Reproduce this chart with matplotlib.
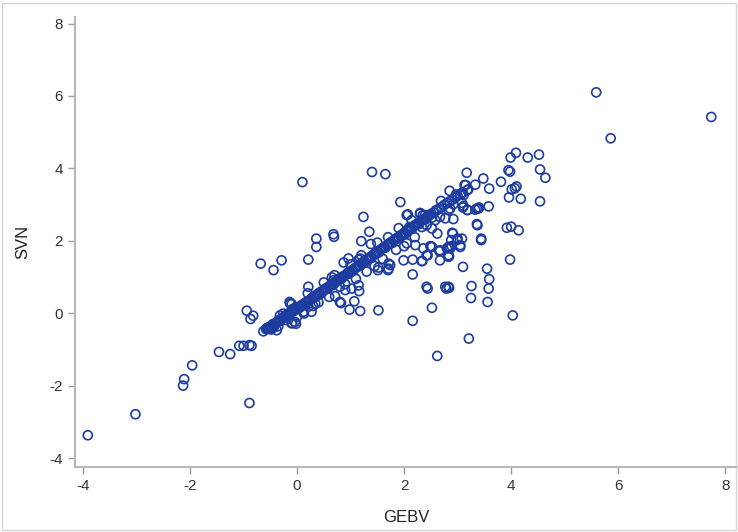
import matplotlib
matplotlib.use("Agg")
import matplotlib.pyplot as plt
from matplotlib.patches import Rectangle

# points lying on the main diagonal band
band_gebv = [
    -0.58, -0.55, -0.52, -0.50, -0.47, -0.45, -0.42, -0.40, -0.37, -0.35,
    -0.32, -0.30, -0.27, -0.25, -0.22, -0.20, -0.17, -0.15, -0.12, -0.10,
    -0.07, -0.05, -0.02, 0.00, 0.03, 0.05, 0.08, 0.10, 0.13, 0.15,
    0.18, 0.20, 0.23, 0.25, 0.28, 0.30, 0.32, 0.35, 0.38, 0.40,
    0.42, 0.45, 0.47, 0.50, 0.52, 0.55, 0.57, 0.60, 0.62, 0.65,
    0.68, 0.70, 0.72, 0.75, 0.78, 0.80, 0.83, 0.85, 0.88, 0.90,
    0.93, 0.95, 0.98, 1.00, 1.03, 1.05, 1.08, 1.10, 1.13, 1.15,
    1.18, 1.20, 1.23, 1.25, 1.28, 1.30, 1.33, 1.35, 1.38, 1.40,
    1.43, 1.45, 1.48, 1.50, 1.53, 1.55, 1.58, 1.60, 1.63, 1.65,
    1.68, 1.70, 1.73, 1.75, 1.78, 1.80, 1.83, 1.85, 1.88, 1.90,
    1.93, 1.95, 1.98, 2.00, 2.03, 2.05, 2.08, 2.10, 2.13, 2.15,
    2.18, 2.20, 2.23, 2.25, 2.28, 2.30, 2.33, 2.35, 2.38, 2.40,
    2.43, 2.45, 2.48, 2.50, 2.55, 2.60, 2.65, 2.70, 2.75, 2.80,
    2.85, 2.90, 2.95, 3.00, 3.05, 3.10, 3.20,
    0.40, 0.60, 0.90, 1.10, 1.30, 1.00, 0.70, 1.45, 1.60, 1.85,
    2.00, 1.70, 1.20, 0.50, 0.20, -0.10, 0.00, 0.30, 1.50, 2.20,
    2.30, 1.90,
]
band_svn = [
    -0.44, -0.40, -0.43, -0.36, -0.38, -0.30, -0.33, -0.27, -0.25, -0.20,
    -0.22, -0.16, -0.14, -0.10, -0.12, -0.05, -0.03, 0.00, 0.02, 0.06,
    0.05, 0.10, 0.12, 0.11, 0.17, 0.15, 0.21, 0.24, 0.22, 0.29,
    0.30, 0.33, 0.35, 0.38, 0.40, 0.45, 0.43, 0.49, 0.50, 0.55,
    0.52, 0.60, 0.58, 0.63, 0.66, 0.70, 0.67, 0.74, 0.76, 0.80,
    0.78, 0.85, 0.87, 0.90, 0.92, 0.97, 0.95, 1.01, 1.03, 1.05,
    1.08, 1.12, 1.10, 1.15, 1.19, 1.17, 1.24, 1.26, 1.28, 1.33,
    1.31, 1.37, 1.40, 1.43, 1.41, 1.48, 1.50, 1.53, 1.56, 1.55,
    1.62, 1.64, 1.66, 1.70, 1.68, 1.75, 1.77, 1.80, 1.83, 1.81,
    1.88, 1.90, 1.93, 1.96, 1.94, 2.01, 2.03, 2.06, 2.09, 2.07,
    2.14, 2.16, 2.19, 2.22, 2.20, 2.27, 2.29, 2.33, 2.35, 2.33,
    2.40, 2.43, 2.45, 2.48, 2.46, 2.53, 2.56, 2.58, 2.61, 2.59,
    2.66, 2.69, 2.71, 2.74, 2.78, 2.83, 2.88, 2.93, 2.99, 3.04,
    3.09, 3.13, 3.19, 3.24, 3.28, 3.33, 3.42,
    0.30, 0.45, 0.80, 0.95, 1.15, 1.35, 1.05, 1.30, 1.50, 1.75,
    1.85, 2.10, 1.60, 0.85, 0.55, 0.25, -0.10, 0.20, 1.95, 2.10,
    2.75, 2.35,
]

# points scattered off the band
off_gebv = [
    -3.91, -3.02, -2.11, -2.13, -1.96, -1.46, -1.25, -1.08, -1.00, -0.89,
    -0.85, -0.89, -0.94, -0.87, -0.82,
    -0.63, -0.57, -0.49, -0.44, -0.38, -0.35,
    -0.32, -0.26, -0.21, -0.16, -0.09, -0.02, -0.13, -0.07, 0.06, 0.13,
    0.27, 0.21, 0.34, -0.14, 0.12, -0.04, -0.10,
    0.82, 0.98, 1.18, 1.07, 0.21, 1.52, 2.16, 2.16, 1.15, 1.16,
    1.02, 0.71, 0.80, 1.51, 1.70, 0.65,
    -0.68, -0.29, -0.44, 0.21, 0.36, 0.36, 0.68, 0.69, 0.80, 0.90,
    0.68, 0.96, 0.87, 1.18,
    0.10, 1.40, 1.65, 1.93, 1.24, 2.05, 1.35, 1.20, 1.38, 2.05,
    2.21, 2.36, 2.49, 2.67, 2.83, 2.91, 1.99, 2.16, 2.33, 2.42,
    1.74, 1.71, 1.52, 1.15, 2.42, 2.77, 2.83, 2.67, 2.83, 2.85,
    5.59, 7.74, 5.86, 4.09, 3.99, 4.31, 4.52, 3.95, 3.98, 4.54,
    4.64, 3.48, 3.81, 3.59, 4.01, 4.10, 4.07, 3.96, 4.18, 4.54,
    3.58, 3.92, 4.00, 4.14,
    3.98, 3.10, 3.55, 3.59, 2.44, 2.79, 2.84, 3.26, 3.58, 3.25,
    3.56, 2.52, 4.03, 3.21, 2.62,
    2.50, 2.66, 2.84, 3.05, 3.44, 2.34, 2.44, 1.71, 2.86,
    3.17, 3.33, 3.15, 2.85, 2.97, 3.08, 3.11, 2.69, 2.92, 3.08,
    3.11, 3.19, 3.33, 3.39, 2.60, 2.83, 2.86, 2.39, 2.52, 2.58,
    2.67, 2.77, 2.92, 2.33, 2.42, 2.52, 2.62, 2.90, 3.08, 3.37,
    3.44, 2.52, 2.80, 2.89, 2.99, 3.05, 2.83, 3.36, 3.00, 2.88,
    2.14, 2.07, 2.30, 2.35, 2.10, 2.05, 3.18, 3.13, 3.36, 3.40,
    3.10, 3.18,
]
off_svn = [
    -3.37, -2.79, -1.82, -2.00, -1.44, -1.07, -1.13, -0.90, -0.90, -0.88,
    -0.90, -2.48, 0.07, -0.16, -0.07,
    -0.50, -0.42, -0.45, -0.40, -0.47, -0.36,
    -0.06, -0.01, -0.19, -0.06, -0.27, -0.29, 0.27, 0.13, 0.19, -0.01,
    0.04, 0.18, 0.27, 0.31, 0.04, -0.24, -0.28,
    0.28, 0.10, 0.06, 0.33, 0.73, 0.08, -0.21, 1.07, 0.77, 0.61,
    0.68, 0.47, 0.31, 1.19, 1.19, 0.99,
    1.37, 1.46, 1.19, 1.48, 2.06, 1.83, 2.18, 2.11, 0.73, 0.64,
    0.91, 1.51, 1.40, 1.51,
    3.62, 3.90, 3.84, 3.07, 2.66, 2.71, 2.25, 1.99, 1.91, 1.93,
    1.88, 1.79, 1.85, 1.74, 1.83, 2.20, 1.46, 1.48, 1.44, 1.60,
    1.33, 1.23, 1.26, 1.48, 0.73, 0.73, 0.73, 1.46, 1.56, 1.83,
    6.10, 5.42, 4.83, 4.43, 4.30, 4.30, 4.38, 3.95, 3.91, 3.97,
    3.74, 3.72, 3.63, 3.44, 3.42, 3.50, 3.45, 3.20, 3.16, 3.09,
    2.95, 2.36, 2.39, 2.29,
    1.48, 1.28, 1.23, 0.94, 0.68, 0.68, 0.70, 0.75, 0.68, 0.42,
    0.31, 0.15, -0.06, -0.70, -1.18,
    1.85, 1.71, 1.57, 1.88, 2.02, 1.44, 1.60, 1.37, 1.79,
    3.88, 3.55, 3.54, 3.38, 3.28, 3.32, 3.26, 3.10, 3.01, 3.05,
    2.96, 2.85, 2.86, 2.89, 2.85, 2.85, 2.89, 2.71, 2.64, 2.57,
    2.66, 2.62, 2.60, 2.38, 2.43, 2.34, 2.20, 2.22, 2.06, 2.43,
    2.06, 1.83, 1.79, 1.85, 2.02, 1.83, 1.60, 2.46, 2.06, 2.02,
    2.57, 2.73, 2.77, 2.71, 2.38, 2.29, 3.40, 3.54, 2.89, 2.92,
    2.92, 2.85,
]

x_ticks = [-4, -2, 0, 2, 4, 6, 8]
y_ticks = [-4, -2, 0, 2, 4, 6, 8]

gebv = band_gebv + off_gebv
svn = band_svn + off_svn

plt.rcParams["font.family"] = ["Liberation Sans", "DejaVu Sans"]
plt.rcParams["axes.unicode_minus"] = False

fig = plt.figure(figsize=(7.38, 5.32), dpi=100)
ax = fig.add_axes([0.1016, 0.122, 0.897, 0.846])

ax.scatter(gebv, svn, s=42, facecolors="none", edgecolors="#1c3c9f",
           linewidths=1.2)

ax.set_xlim(-4.15, 8.22)
ax.set_ylim(-4.25, 8.18)
ax.set_xticks(x_ticks)
ax.set_yticks(y_ticks)

for side in ["top", "right"]:
    ax.spines[side].set_visible(False)
for side in ["left", "bottom"]:
    ax.spines[side].set_color("#b8b8b8")
    ax.spines[side].set_linewidth(1.5)

ax.tick_params(axis="both", colors="#9a9a9a", labelcolor="#333333",
               labelsize=11, length=5, width=1, direction="out")

ax.set_xlabel("GEBV", fontsize=12, color="#222222", labelpad=12)
ax.set_ylabel("SVN", fontsize=12, color="#222222", labelpad=14)

# thin light frame around the whole picture
fig.patches.append(Rectangle((0.003, 0.003), 0.994, 0.992,
                             transform=fig.transFigure, fill=False,
                             edgecolor="#d4d4d4", linewidth=1))

fig.savefig("out.png", dpi=100)
